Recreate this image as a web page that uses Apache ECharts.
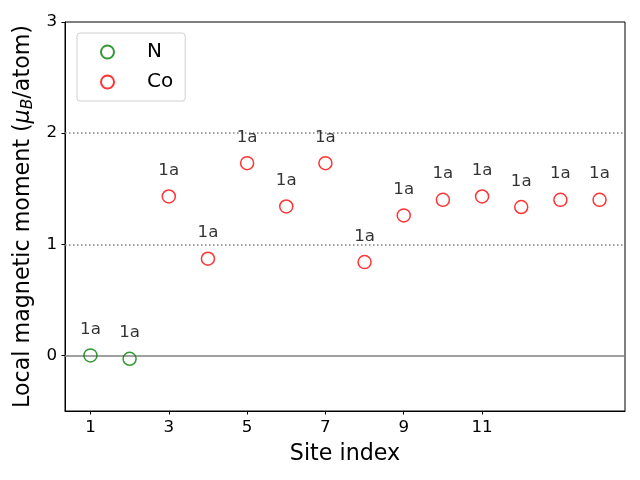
<!DOCTYPE html>
<html>
<head>
<meta charset="utf-8">
<script src="https://cdn.jsdelivr.net/npm/echarts@6/dist/echarts.min.js"></script>
<style>html,body{margin:0;padding:0;background:#fff}#c{width:640px;height:480px}</style>
</head>
<body>
<div id="c"></div>
<script>
const siteN = [1, 2];
const momN = [0.00, -0.03];
const labelN = ['1a', '1a'];
const siteCo = [3, 4, 5, 6, 7, 8, 9, 10, 11, 12, 13, 14];
const momCo = [1.43, 0.87, 1.73, 1.34, 1.73, 0.84, 1.26, 1.40, 1.43, 1.335, 1.40, 1.40];
const labelCo = ['1a', '1a', '1a', '1a', '1a', '1a', '1a', '1a', '1a', '1a', '1a', '1a'];
const xTicks = [1, 3, 5, 7, 9, 11];
const yTicks = [0, 1, 2, 3];
const refSolid = [0];
const refDotted = [1, 2];

const FONT = 'DejaVu Sans';
function pts(xs, ys) { return xs.map((x, i) => [x, ys[i]]); }
function mkSeries(name, xs, ys, labels, color, extra) {
  return Object.assign({
    name: name,
    type: 'scatter',
    symbol: 'circle',
    symbolSize: 13,
    itemStyle: { color: 'rgba(0,0,0,0)', borderColor: color, borderWidth: 1.5 },
    label: {
      show: true, position: 'top', distance: 10,
      formatter: p => labels[p.dataIndex],
      fontFamily: FONT, fontSize: 16.7, color: '#000'
    },
    emphasis: { disabled: true },
    z: 5,
    data: pts(xs, ys)
  }, extra || {});
}

const chart = echarts.init(document.getElementById('c'), null, { renderer: 'canvas' });
chart.setOption({
  animation: false,
  backgroundColor: '#fff',
  grid: { left: 65, right: 15, top: 22, bottom: 69, show: true, borderColor: '#000', borderWidth: 1, backgroundColor: 'transparent', containLabel: false },
  legend: {
    orient: 'vertical', left: 77, top: 33,
    padding: [7, 12, 7, 23],
    itemWidth: 13, itemHeight: 13, itemGap: 6,
    borderColor: '#d0d0d0', borderWidth: 1, borderRadius: 3, backgroundColor: '#fff',
    textStyle: { fontFamily: FONT, fontSize: 20, color: '#000', lineHeight: 24, padding: [0, 0, 0, 28] },
    data: ['N', 'Co']
  },
  xAxis: {
    type: 'value', min: 0.35, max: 14.65,
    name: 'Site index', nameLocation: 'middle', nameGap: 32,
    nameTextStyle: { fontFamily: FONT, fontSize: 22.2, color: '#000' },
    axisLine: { show: true, onZero: false, lineStyle: { color: '#000', width: 1 } },
    axisTick: { show: true, length: 3.5, lineStyle: { color: '#000' }, customValues: xTicks },
    axisLabel: { fontFamily: FONT, fontSize: 16.7, color: '#000', margin: 8, customValues: xTicks },
    splitLine: { show: false }
  },
  yAxis: {
    type: 'value', min: -0.5, max: 3,
    name: 'Local magnetic moment ({i|μ}{sub|B}/atom)', nameLocation: 'middle', nameGap: 28, nameRotate: 90,
    nameTextStyle: {
      fontFamily: FONT, fontSize: 22.2, color: '#000',
      rich: {
        i: { fontFamily: FONT, fontSize: 22.2, fontStyle: 'italic', color: '#000' },
        sub: { fontFamily: FONT, fontSize: 15.5, fontStyle: 'italic', color: '#000', padding: [9, 0, 0, 0] }
      }
    },
    axisLine: { show: true, onZero: false, lineStyle: { color: '#000', width: 1 } },
    axisTick: { show: true, length: 3.5, lineStyle: { color: '#000' }, customValues: yTicks },
    axisLabel: { fontFamily: FONT, fontSize: 16.7, color: '#000', margin: 8, customValues: yTicks },
    splitLine: { show: false }
  },
  series: [
    mkSeries('N', siteN, momN, labelN, 'green', {
      markLine: {
        silent: true, symbol: 'none', label: { show: false },
        lineStyle: { color: '#808080', width: 1.5, type: 'solid' },
        data: refSolid.map(v => ({ yAxis: v }))
      }
    }),
    mkSeries('Co', siteCo, momCo, labelCo, 'red', {
      markLine: {
        silent: true, symbol: 'none', label: { show: false },
        lineStyle: { color: '#808080', width: 1.5, type: [1.5, 2.5] },
        data: refDotted.map(v => ({ yAxis: v }))
      }
    })
  ]
});
</script>
</body>
</html>
